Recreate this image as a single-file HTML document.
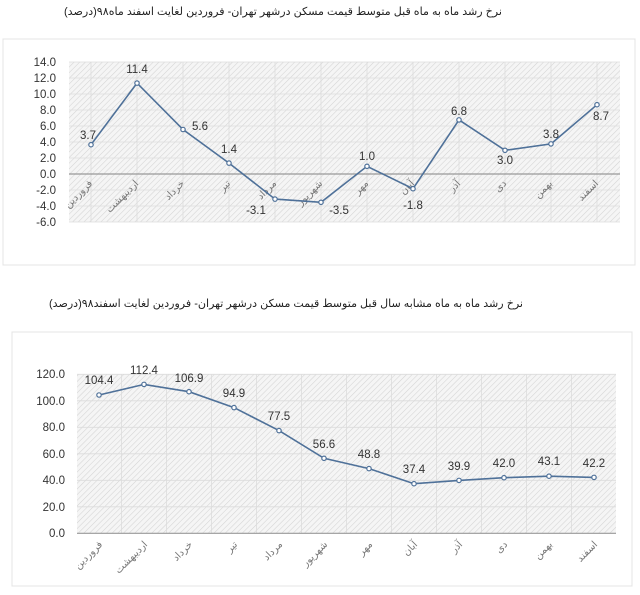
<!DOCTYPE html>
<html><head><meta charset="utf-8"><style>
body{margin:0;background:#fff;}
svg{display:block;font-family:"Liberation Sans","DejaVu Sans",sans-serif;}
.t{font-family:"Liberation Sans","Noto Sans CJK SC","DejaVu Sans",sans-serif;}
</style></head><body>
<svg width="640" height="595" viewBox="0 0 640 595" xmlns="http://www.w3.org/2000/svg">
<defs>
<pattern id="h" width="4" height="4" patternUnits="userSpaceOnUse" patternTransform="rotate(45)">
<rect width="4" height="4" fill="#f5f5f5"/><line x1="0" y1="0" x2="0" y2="4" stroke="#d4d4d4" stroke-width="1.1"/>
</pattern>
</defs>
<rect width="640" height="595" fill="#fff"/>
<!-- Chart 1 -->
<text x="283" y="15" font-size="11" text-anchor="middle" class="t" fill="#222" direction="rtl" textLength="438" lengthAdjust="spacingAndGlyphs">نرخ رشد ماه به ماه قبل متوسط قیمت مسکن درشهر تهران- فروردین لغایت اسفند ماه۹۸(درصد)</text>
<rect x="3" y="39" width="632" height="226" fill="#fff" stroke="#e4e4e4"/>
<rect x="69" y="62" width="551" height="160" fill="url(#h)"/>
<g stroke="#dcdcdc" stroke-width="0.8">
<line x1="69" y1="62" x2="620" y2="62"/><line x1="69" y1="78" x2="620" y2="78"/><line x1="69" y1="94" x2="620" y2="94"/><line x1="69" y1="110" x2="620" y2="110"/><line x1="69" y1="126" x2="620" y2="126"/><line x1="69" y1="142" x2="620" y2="142"/><line x1="69" y1="158" x2="620" y2="158"/><line x1="69" y1="190" x2="620" y2="190"/><line x1="69" y1="206" x2="620" y2="206"/><line x1="69" y1="222" x2="620" y2="222"/>
<line x1="91" y1="62" x2="91" y2="222"/><line x1="137" y1="62" x2="137" y2="222"/><line x1="183" y1="62" x2="183" y2="222"/><line x1="229" y1="62" x2="229" y2="222"/><line x1="275" y1="62" x2="275" y2="222"/><line x1="321" y1="62" x2="321" y2="222"/><line x1="367" y1="62" x2="367" y2="222"/><line x1="413" y1="62" x2="413" y2="222"/><line x1="459" y1="62" x2="459" y2="222"/><line x1="505" y1="62" x2="505" y2="222"/><line x1="551" y1="62" x2="551" y2="222"/><line x1="597" y1="62" x2="597" y2="222"/>
</g>
<line x1="69" y1="174" x2="620" y2="174" stroke="#999" stroke-width="1.2"/>
<g font-size="11.5" fill="#333" text-anchor="end">
<text x="56" y="66">14.0</text><text x="56" y="82">12.0</text><text x="56" y="98">10.0</text><text x="56" y="114">8.0</text><text x="56" y="130">6.0</text><text x="56" y="146">4.0</text><text x="56" y="162">2.0</text><text x="56" y="178">0.0</text><text x="56" y="194">-2.0</text><text x="56" y="210">-4.0</text><text x="56" y="226">-6.0</text>
</g>
<g font-size="10" fill="#777" text-anchor="end" class="t">
<text transform="translate(93,184) rotate(-45)">فروردین</text>
<text transform="translate(139,184) rotate(-45)">اردیبهشت</text>
<text transform="translate(185,184) rotate(-45)">خرداد</text>
<text transform="translate(231,184) rotate(-45)">تیر</text>
<text transform="translate(277,184) rotate(-45)">مرداد</text>
<text transform="translate(323,184) rotate(-45)">شهریور</text>
<text transform="translate(369,184) rotate(-45)">مهر</text>
<text transform="translate(415,184) rotate(-45)">آبان</text>
<text transform="translate(461,184) rotate(-45)">آذر</text>
<text transform="translate(507,184) rotate(-45)">دی</text>
<text transform="translate(553,184) rotate(-45)">بهمن</text>
<text transform="translate(599,184) rotate(-45)">اسفند</text>
</g>
<polyline fill="none" stroke="#4f7199" stroke-width="1.6" points="91,144.7 137,83.1 183,129.5 229,163.1 275,199.1 321,202.3 367,166.3 413,188.7 459,119.9 505,150.3 551,143.9 597,104.7"/>
<g fill="#fff" stroke="#4f7199" stroke-width="1.2">
<circle cx="91" cy="144.7" r="2.2"/><circle cx="137" cy="83.1" r="2.2"/><circle cx="183" cy="129.5" r="2.2"/><circle cx="229" cy="163.1" r="2.2"/><circle cx="275" cy="199.1" r="2.2"/><circle cx="321" cy="202.3" r="2.2"/><circle cx="367" cy="166.3" r="2.2"/><circle cx="413" cy="188.7" r="2.2"/><circle cx="459" cy="119.9" r="2.2"/><circle cx="505" cy="150.3" r="2.2"/><circle cx="551" cy="143.9" r="2.2"/><circle cx="597" cy="104.7" r="2.2"/>
</g>
<g font-size="11.5" fill="#333" text-anchor="middle">
<text x="88" y="139">3.7</text><text x="137" y="73">11.4</text><text x="200" y="130">5.6</text><text x="229" y="153">1.4</text><text x="256" y="214">-3.1</text><text x="339" y="214">-3.5</text><text x="367" y="160">1.0</text><text x="413" y="209">-1.8</text><text x="459" y="115">6.8</text><text x="505" y="164">3.0</text><text x="551" y="138">3.8</text><text x="601" y="120">8.7</text>
</g>
<!-- Chart 2 -->
<text x="286" y="307" font-size="11" text-anchor="middle" class="t" fill="#222" direction="rtl" textLength="474" lengthAdjust="spacingAndGlyphs">نرخ رشد ماه به ماه مشابه سال قبل متوسط قیمت مسکن درشهر تهران- فروردین لغایت اسفند۹۸(درصد)</text>
<rect x="12" y="332" width="620" height="254" fill="#fff" stroke="#e4e4e4"/>
<rect x="77" y="374" width="539" height="159" fill="url(#h)"/>
<g stroke="#dcdcdc" stroke-width="0.8">
<line x1="77" y1="374.3" x2="616" y2="374.3"/><line x1="77" y1="400.8" x2="616" y2="400.8"/><line x1="77" y1="427.3" x2="616" y2="427.3"/><line x1="77" y1="453.8" x2="616" y2="453.8"/><line x1="77" y1="480.3" x2="616" y2="480.3"/><line x1="77" y1="506.8" x2="616" y2="506.8"/>
<line x1="121.5" y1="374" x2="121.5" y2="533"/><line x1="166.5" y1="374" x2="166.5" y2="533"/><line x1="211.5" y1="374" x2="211.5" y2="533"/><line x1="256.5" y1="374" x2="256.5" y2="533"/><line x1="301.5" y1="374" x2="301.5" y2="533"/><line x1="346.5" y1="374" x2="346.5" y2="533"/><line x1="391.5" y1="374" x2="391.5" y2="533"/><line x1="436.5" y1="374" x2="436.5" y2="533"/><line x1="481.5" y1="374" x2="481.5" y2="533"/><line x1="526.5" y1="374" x2="526.5" y2="533"/><line x1="571.5" y1="374" x2="571.5" y2="533"/>
</g>
<line x1="77" y1="533.3" x2="616" y2="533.3" stroke="#999" stroke-width="1.2"/>
<g font-size="11.5" fill="#333" text-anchor="end">
<text x="65" y="378">120.0</text><text x="65" y="405">100.0</text><text x="65" y="431">80.0</text><text x="65" y="458">60.0</text><text x="65" y="484">40.0</text><text x="65" y="511">20.0</text><text x="65" y="537">0.0</text>
</g>
<g font-size="10" fill="#777" text-anchor="end" class="t">
<text transform="translate(103,545) rotate(-45)">فروردین</text>
<text transform="translate(148,545) rotate(-45)">اردیبهشت</text>
<text transform="translate(193,545) rotate(-45)">خرداد</text>
<text transform="translate(238,545) rotate(-45)">تیر</text>
<text transform="translate(283,545) rotate(-45)">مرداد</text>
<text transform="translate(328,545) rotate(-45)">شهریور</text>
<text transform="translate(373,545) rotate(-45)">مهر</text>
<text transform="translate(418,545) rotate(-45)">آبان</text>
<text transform="translate(463,545) rotate(-45)">آذر</text>
<text transform="translate(508,545) rotate(-45)">دی</text>
<text transform="translate(553,545) rotate(-45)">بهمن</text>
<text transform="translate(598,545) rotate(-45)">اسفند</text>
</g>
<polyline fill="none" stroke="#4f7199" stroke-width="1.6" points="99,395 144,384.4 189,391.7 234,407.6 279,430.6 324,458.3 369,468.6 414,483.7 459,480.4 504,477.7 549,476.2 594,477.4"/>
<g fill="#fff" stroke="#4f7199" stroke-width="1.2">
<circle cx="99" cy="395" r="2.2"/><circle cx="144" cy="384.4" r="2.2"/><circle cx="189" cy="391.7" r="2.2"/><circle cx="234" cy="407.6" r="2.2"/><circle cx="279" cy="430.6" r="2.2"/><circle cx="324" cy="458.3" r="2.2"/><circle cx="369" cy="468.6" r="2.2"/><circle cx="414" cy="483.7" r="2.2"/><circle cx="459" cy="480.4" r="2.2"/><circle cx="504" cy="477.7" r="2.2"/><circle cx="549" cy="476.2" r="2.2"/><circle cx="594" cy="477.4" r="2.2"/>
</g>
<g font-size="11.5" fill="#333" text-anchor="middle">
<text x="99" y="384">104.4</text><text x="144" y="374">112.4</text><text x="189" y="382">106.9</text><text x="234" y="397">94.9</text><text x="279" y="420">77.5</text><text x="324" y="448">56.6</text><text x="369" y="458">48.8</text><text x="414" y="473">37.4</text><text x="459" y="470">39.9</text><text x="504" y="467">42.0</text><text x="549" y="465">43.1</text><text x="594" y="467">42.2</text>
</g>
</svg>
</body></html>
